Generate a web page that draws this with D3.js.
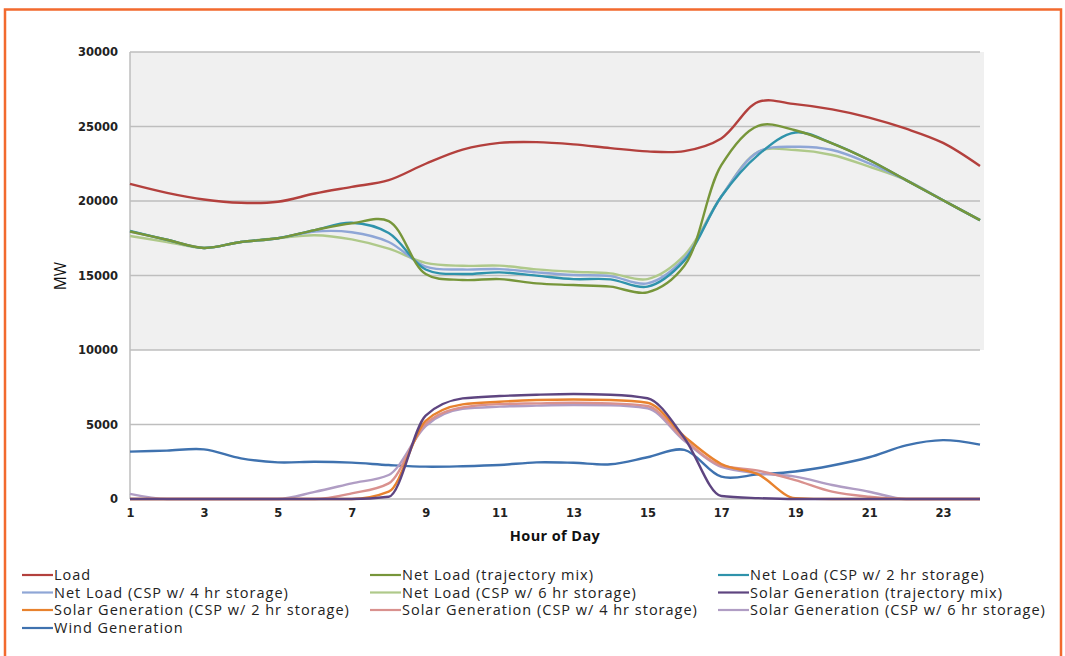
<!DOCTYPE html>
<html><head><meta charset="utf-8">
<script src="https://cdn.jsdelivr.net/npm/d3@7"></script>
<style>body{margin:0;background:#fff;}svg{display:block;}</style>
</head><body>
<svg id="chart" width="1065" height="656"></svg>
<script>
const hours = d3.range(1, 25);
const xTicks = [1,3,5,7,9,11,13,15,17,19,21,23];
const yTicks = [0,5000,10000,15000,20000,25000,30000];

const load       = [21150,20550,20100,19880,19950,20500,20950,21400,22500,23450,23900,23950,23800,23550,23330,23350,24200,26650,26500,26150,25600,24850,23900,22350];
const netTraj    = [17950,17400,16850,17250,17500,18050,18500,18650,15100,14700,14760,14470,14360,14250,13870,15650,22400,25050,24750,23870,22750,21400,20050,18720];
const netCsp2    = [18000,17400,16850,17250,17500,18050,18540,17850,15400,15100,15210,14990,14760,14740,14250,16000,20300,23100,24600,23870,22750,21400,20050,18720];
const netCsp4    = [17950,17400,16850,17250,17500,17950,17900,17250,15600,15400,15430,15210,15030,14960,14470,16150,20300,23300,23640,23420,22530,21400,20050,18720];
const netCsp6    = [17650,17250,16850,17250,17500,17700,17420,16800,15850,15650,15660,15410,15250,15140,14760,16350,20300,23300,23420,23090,22300,21400,20050,18720];
const solTraj    = [0,0,0,0,0,0,0,150,5600,6750,6910,7000,7050,7000,6760,4100,200,60,0,0,0,0,0,0];
const solCsp2    = [0,0,0,0,0,0,0,490,5250,6350,6530,6640,6680,6640,6460,4200,2350,1650,60,0,0,0,0,0];
const solCsp4    = [0,0,0,0,0,0,380,1050,5050,6150,6370,6420,6460,6420,6240,4000,2250,1900,1270,490,150,0,0,0];
const solCsp6    = [340,0,0,0,0,480,1050,1610,4900,6050,6200,6270,6310,6290,6090,3900,2150,1720,1500,940,490,0,0,0];
const wind       = [3180,3250,3330,2730,2460,2500,2440,2280,2170,2200,2280,2460,2430,2330,2800,3300,1500,1650,1850,2250,2800,3600,3950,3650];

const seriesNames = [
  "Load","Net Load (trajectory mix)","Net Load (CSP w/ 2 hr storage)",
  "Net Load (CSP w/ 4 hr storage)","Net Load (CSP w/ 6 hr storage)","Solar Generation (trajectory mix)",
  "Solar Generation (CSP w/ 2 hr storage)","Solar Generation (CSP w/ 4 hr storage)","Solar Generation (CSP w/ 6 hr storage)",
  "Wind Generation"
];
const seriesValues = [load, netTraj, netCsp2, netCsp4, netCsp6, solTraj, solCsp2, solCsp4, solCsp6, wind];
const seriesColors = ["#B3403D","#77963A","#2F93AB","#8FA6D6","#AFC98A","#5E4580","#E8822E","#D9918E","#B09DC4","#3F72AF"];

(function(){
const svg = d3.select("#chart");
const pL = 130, pR = 980, pT = 52, pB = 499;
const x = d3.scaleLinear().domain([1,24]).range([pL,pR]);
const y = d3.scaleLinear().domain([0,30000]).range([pB,pT]);

// frame
svg.append("rect").attr("x",5).attr("y",9.5).attr("width",1056).attr("height",660)
  .attr("fill","none").attr("stroke","#F26A2E").attr("stroke-width",2.5);

// gray band
svg.append("rect").attr("x",pL).attr("y",y(30000)).attr("width",pR-pL+4).attr("height",y(10000)-y(30000))
  .attr("fill","#F0F0F0");

// grid
svg.append("g").selectAll("line").data(yTicks).join("line")
  .attr("x1",pL).attr("x2",pR).attr("y1",d=>y(d)).attr("y2",d=>y(d))
  .attr("stroke","#BEBEBE").attr("stroke-width",1.5);
svg.append("line").attr("x1",pL).attr("x2",pL).attr("y1",pT).attr("y2",pB)
  .attr("stroke","#BEBEBE").attr("stroke-width",1.5);

// y labels
const yAxis = d3.axisLeft(y).tickValues(yTicks).tickSize(0).tickPadding(12).tickFormat(d3.format("d"));
const gy = svg.append("g").attr("transform",`translate(${pL},0)`).call(yAxis);
gy.select(".domain").remove();
gy.selectAll("text").attr("font-family","DejaVu Sans").attr("font-weight","bold").attr("font-size",11.5).attr("fill","#222");

// x labels
const xAxis = d3.axisBottom(x).tickValues(xTicks).tickSize(0).tickPadding(10).tickFormat(d3.format("d"));
const gx = svg.append("g").attr("transform",`translate(0,${pB})`).call(xAxis);
gx.select(".domain").remove();
gx.selectAll("text").attr("font-family","DejaVu Sans").attr("font-weight","bold").attr("font-size",11.5).attr("fill","#222");

svg.append("text").attr("x",555).attr("y",541).attr("text-anchor","middle")
  .attr("font-family","Open Sans").attr("font-weight","bold").attr("font-size",14.5).attr("letter-spacing",0.4).attr("fill","#111").text("Hour of Day");
svg.append("text").attr("transform","translate(66,276) rotate(-90)").attr("text-anchor","middle")
  .attr("font-family","Open Sans").attr("font-size",15.5).attr("fill","#111").text("MW");

// lines
const lineSmooth = d3.line().x((d,i)=>x(hours[i])).y(d=>y(d)).curve(d3.curveCatmullRom.alpha(0.5));
const lineMono = d3.line().x((d,i)=>x(hours[i])).y(d=>y(d)).curve(d3.curveMonotoneX);
const drawOrder = [9,8,7,6,5,0,4,3,2,1];
svg.append("g").selectAll("path").data(drawOrder).join("path")
  .attr("d",k=>(k>=5 && k<=8 ? lineMono : lineSmooth)(seriesValues[k])).attr("fill","none")
  .attr("stroke",k=>seriesColors[k]).attr("stroke-width",2.4).attr("stroke-linejoin","round");

// legend
const colX = [22, 370, 718];
const rowY = [575, 592.5, 610, 628];
const leg = svg.append("g").selectAll("g").data(seriesNames).join("g")
  .attr("transform",(d,i)=>`translate(${colX[i%3]},${rowY[Math.floor(i/3)]})`);
leg.append("line").attr("x1",0).attr("x2",31).attr("y1",0).attr("y2",0)
  .attr("stroke",(d,i)=>seriesColors[i]).attr("stroke-width",2.2);
leg.append("text").attr("x",32).attr("y",5).attr("font-family","Open Sans").attr("font-size",14.5)
  .attr("letter-spacing",1).attr("fill","#222").text(d=>d);
})();
</script>
</body></html>
